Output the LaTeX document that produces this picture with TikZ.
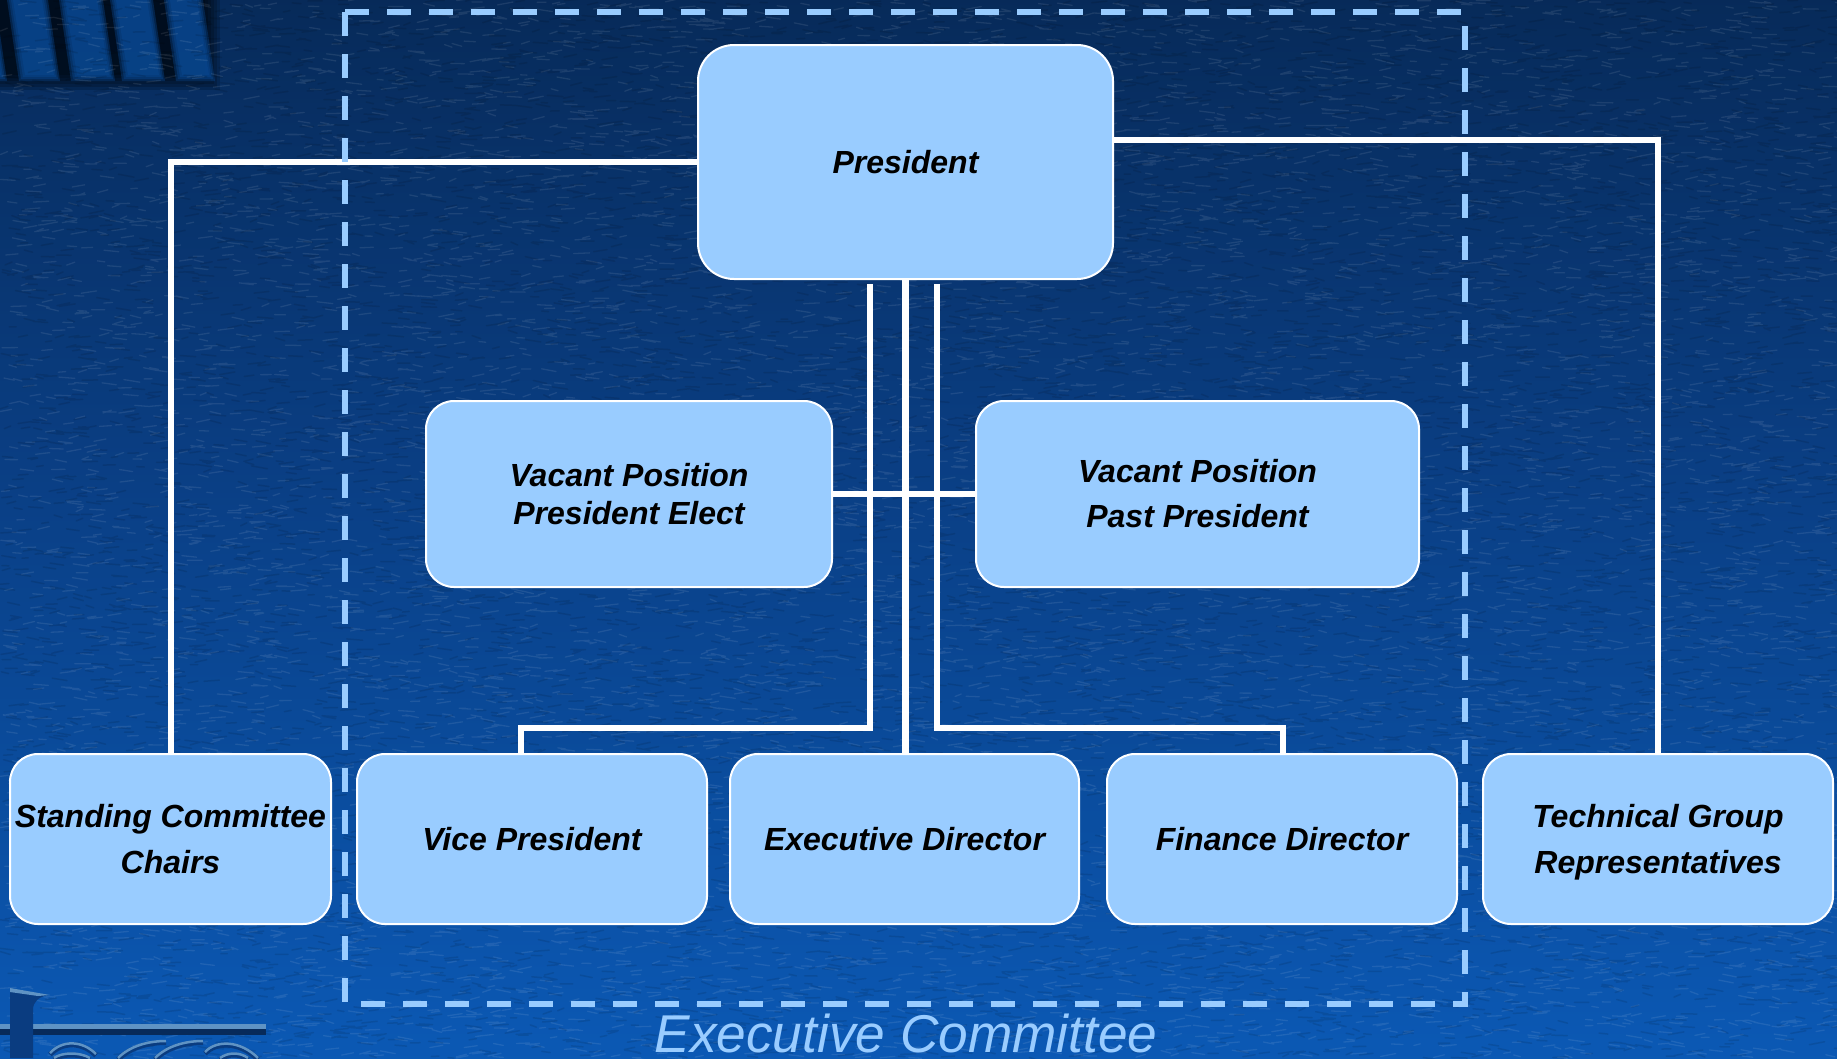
\documentclass[tikz,border=0pt]{standalone}
\usepackage{fontspec}
\setmainfont{Liberation Sans}
\usetikzlibrary{calc}
\definecolor{boxblue}{HTML}{99CCFF}
\definecolor{bgA}{HTML}{030F26}
\definecolor{bgB}{HTML}{06244C}
\definecolor{bgC}{HTML}{0A3F85}
\definecolor{bgD}{HTML}{0B5FC0}
\definecolor{steel}{HTML}{5F93C4}
\definecolor{logodark}{HTML}{0A3C80}
\pgfdeclareverticalshading{bgshade}{100bp}{color(0bp)=(bgD); color(25bp)=(bgD!80!bgC); color(52bp)=(bgC); color(82bp)=(bgB); color(98.5bp)=(bgB); color(100bp)=(bgA)}
\tikzset{
 x=1pt,y=-1pt,
 orgbox/.style={draw=white,line width=2pt,fill=boxblue,rounded corners=28pt,anchor=north west,inner sep=0pt,outer sep=1pt,
   font=\fontsize{32}{46}\selectfont\bfseries\itshape,align=center,text=black},
 wire/.style={draw=white,line width=6.4pt},
 fence/.style={draw=boxblue,line width=6pt,dash pattern=on 24pt off 18pt},
}
\begin{document}
\begin{tikzpicture}
\useasboundingbox (0,0) rectangle (1837,1058);
\shade[shading=bgshade] (0,0) rectangle (1837,1058);
% shadowed corner and stripes, top left
\foreach \e in {0,3,...,15}{
  \fill[black,opacity=.16] (0,0) rectangle (205+\e,75+\e);
}
\foreach \a/\b in {-40/-8,10/45,62/100,113/150,167/200}{
  \foreach \e in {3,1,-1,-3}{
    \fill[bgD!80!black,opacity=.36] (\a-\e,0) -- (\b+\e,0) -- (\b+12+\e,78+\e) -- (\a+12-\e,78+\e) -- cycle;
  }
}
% leather texture
\pgfmathsetseed{7}
\draw[white,opacity=0.085,line width=1.3pt,line cap=round]
  \foreach \i in {1,...,9000}{
    \pgfextra{\pgfmathsetmacro{\px}{rnd*1837}\pgfmathsetmacro{\py}{rnd*1058}
      \pgfmathsetmacro{\pl}{6+rnd*10}\pgfmathsetmacro{\pd}{(rnd-0.5)*6}}
    (\px,\py) -- ++(\pl,\pd)
  };
\draw[black,opacity=0.10,line width=1.5pt,line cap=round]
  \foreach \i in {1,...,9000}{
    \pgfextra{\pgfmathsetmacro{\px}{rnd*1837}\pgfmathsetmacro{\py}{rnd*1058}
      \pgfmathsetmacro{\pl}{6+rnd*10}\pgfmathsetmacro{\pd}{(rnd-0.5)*6}}
    (\px,\py) -- ++(\pl,\pd)
  };
% logo, bottom left
\fill[steel] (0,1024) rectangle (266,1029);
\fill[logodark!70!black] (0,1029) rectangle (266,1035);
\fill[logodark] (10,989) -- (48,995) .. controls (38,997) and (33,1002) .. (33,1010) -- (33,1058) -- (10,1058) -- cycle;
\fill[steel] (10,988) -- (50,995) -- (38,996) -- (10,992) -- cycle;
\foreach \a/\b/\c/\d/\e/\f/\g/\h in {
  50/1053/62/1040/82/1040/96/1054,
  54/1058/62/1052/80/1052/90/1058,
  118/1058/130/1046/148/1041/166/1041,
  155/1058/167/1046/185/1041/203/1041,
  205/1052/216/1040/240/1040/258/1058,
  220/1058/228/1052/240/1052/248/1058}{
  \draw[logodark,line width=5pt] (\a,\b+1.5) .. controls (\c,\d+1.5) and (\e,\f+1.5) .. (\g,\h+1.5);
  \draw[steel,line width=2.5pt] (\a,\b) .. controls (\c,\d) and (\e,\f) .. (\g,\h);
}
% boxes
\node[orgbox,rounded corners=36pt,minimum width=415pt,minimum height=234pt] (pres) at (697,44) {President};
\node[orgbox,minimum width=406pt,minimum height=186pt,font=\fontsize{32}{38}\selectfont\bfseries\itshape] (elect) at (425,400) {Vacant Position\\President Elect};
\node[orgbox,minimum width=443pt,minimum height=186pt,font=\fontsize{32}{45}\selectfont\bfseries\itshape] (past) at (975,400) {Vacant Position\\Past President};
\node[orgbox,minimum width=321pt,minimum height=170pt] (chairs) at (9,753) {Standing Committee\\Chairs};
\node[orgbox,minimum width=350pt,minimum height=170pt] (vp) at (356,753) {Vice President};
\node[orgbox,minimum width=349pt,minimum height=170pt] (ed) at (729,753) {Executive Director};
\node[orgbox,minimum width=350pt,minimum height=170pt] (fd) at (1106,753) {Finance Director};
\node[orgbox,minimum width=350pt,minimum height=170pt] (tg) at (1482,753) {Technical Group\\\smash{Representatives}};
% free ends and bends
\coordinate (lstart) at (870,284);
\coordinate (rstart) at (937,284);
\coordinate (lbus) at (870,728);
\coordinate (rbus) at (937,728);
\coordinate (vpdrop) at (521,728);
\coordinate (fddrop) at (1283,728);
\coordinate (vptop) at (521,753);
\coordinate (fdtop) at (1283,753);
\coordinate (presr) at (1114,140);
\coordinate (tgbend) at (1658,140);
\coordinate (tgtop) at (1658,753);
\coordinate (chbend) at (171,162);
\coordinate (chtop) at (171,753);
% connectors
\draw[wire,line width=7pt] (pres.south) -- (pres.south |- ed.north);
\draw[wire] (lstart) -- (lbus) -- (vpdrop) -- (vptop);
\draw[wire] (rstart) -- (rbus) -- (fddrop) -- (fdtop);
\draw[wire] (elect.east) -- (past.west);
\draw[wire] (pres.west) -- (pres.west -| chbend) -- (chtop);
\draw[wire] (presr) -- (tgbend) -- (tgtop);
% committee outline
\coordinate (tl) at (345,12);
\coordinate (bl) at (345,1004);
\coordinate (br) at (1465,1004);
\coordinate (tr) at (1465,12);
\draw[fence] (tl) -- (bl) -- (br) -- (tr);
\draw[fence] (tl) -- (tr);
\node[text=boxblue,font=\fontsize{53.2}{53}\selectfont\itshape,anchor=base,inner sep=0pt,outer sep=0pt] (cap) at (906,1052) {Executive Committee};
\end{tikzpicture}
\end{document}
